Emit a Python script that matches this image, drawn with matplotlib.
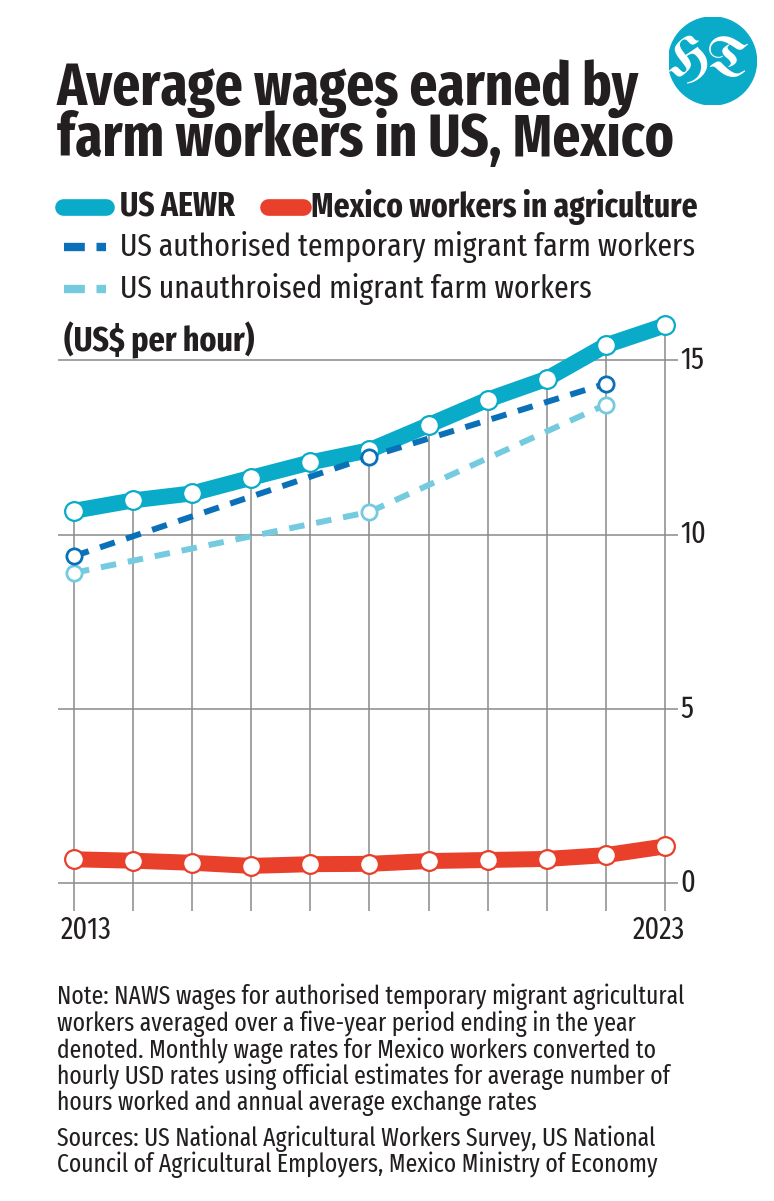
import matplotlib
matplotlib.use("Agg")
import matplotlib.pyplot as plt
from matplotlib.lines import Line2D
from matplotlib.patches import Circle

plt.rcParams['font.family'] = ['Fira Sans Extra Condensed', 'Fira Sans Condensed', 'DejaVu Sans']

# data (US$ per hour)
years = [2013, 2014, 2015, 2016, 2017, 2018, 2019, 2020, 2021, 2022, 2023]
us_aewr = [10.68, 10.98, 11.18, 11.63, 12.07, 12.42, 13.14, 13.87, 14.47, 15.43, 16.00]
mexico = [0.68, 0.64, 0.58, 0.49, 0.54, 0.55, 0.63, 0.66, 0.69, 0.80, 1.05]
auth_years = [2013, 2018, 2022]
us_auth = [9.38, 12.23, 14.33]
unauth_years = [2013, 2018, 2022]
us_unauth = [8.90, 10.65, 13.73]
yticks = [0, 5, 10, 15]

CYAN = '#0aabc9'
RED = '#e9402b'
DARK = '#0a70b8'
LIGHT = '#74cbdf'
GRID = '#8a8a8a'
INK = '#231f20'

W, H = 774, 1201
fig = plt.figure(figsize=(W / 100, H / 100), dpi=100)

def fx(px):
    return px / W

def fy(py):
    return 1 - py / H

# axes placed in pixel terms: x 40..700, y 300..940
ax = fig.add_axes([fx(40), fy(940), fx(700) - fx(40), fy(300) - fy(940)])
ax.set_xlim(2012.425, 2023.592)
ax.set_ylim(-1.636, 16.73)
ax.axis('off')

# gridlines
ax.hlines(yticks, 2012.73, 2023.22, color=GRID, lw=1.1, zorder=1)
ax.vlines(years, -0.8, us_aewr, color=GRID, lw=1.1, zorder=1)

ax.plot(years, us_aewr, color=CYAN, lw=11.5, solid_capstyle='round', zorder=2)
ax.plot(years, us_aewr, 'o', ms=13.5, mfc='white', mec=CYAN, mew=1.6, zorder=2.5)

ax.plot(unauth_years, us_unauth, color=LIGHT, lw=4.3, dashes=(2.6, 2.0), zorder=3)
ax.plot(unauth_years, us_unauth, 'o', ms=11, mfc='white', mec=LIGHT, mew=2.0, zorder=3.5)

ax.plot(auth_years, us_auth, color=DARK, lw=4.3, dashes=(2.6, 2.0), zorder=4)
ax.plot(auth_years, us_auth, 'o', ms=11, mfc='white', mec=DARK, mew=2.0, zorder=4.5)

ax.plot(years, mexico, color=RED, lw=11.5, solid_capstyle='round', zorder=5)
ax.plot(years, mexico, 'o', ms=13.5, mfc='white', mec=RED, mew=1.6, zorder=5.5)

for v in yticks:
    ax.text(2023.26, v, str(v), ha='left', va='center', fontsize=22, color=INK)
ax.text(2013.2, -1.35, '2013', ha='center', va='center', fontsize=22, color=INK)
ax.text(2022.9, -1.35, '2023', ha='center', va='center', fontsize=22, color=INK)

# title
fig.text(fx(57), fy(105), 'Average wages earned by', fontsize=43, fontweight='bold', color=INK)
fig.text(fx(57), fy(156), 'farm workers in US, Mexico', fontsize=43, fontweight='bold', color=INK)

# logo
lax = fig.add_axes([fx(668.5), fy(105), 88 / W, 88 / H])
lax.set_xlim(-1, 1)
lax.set_ylim(-1, 1)
lax.axis('off')
lax.add_patch(Circle((0, 0), 1, color=CYAN))
lax.text(-0.08, -0.02, 'HT', ha='center', va='center', fontsize=40, family='UnifrakturMaguntia',
         color='white')

# legend
def legend_line(x0, x1, y, color, lw, dashed=False):
    ln = Line2D([fx(x0), fx(x1)], [fy(y), fy(y)], transform=fig.transFigure, color=color, lw=lw,
                solid_capstyle='round')
    if dashed:
        ln.set_dashes((2.5, 1.4))
        ln.set_dash_capstyle('butt')
    fig.lines.append(ln)

legend_line(63, 106, 207, CYAN, 12)
fig.text(fx(120), fy(207), 'US AEWR', va='center', fontsize=24.5, fontweight='bold', color=INK)
legend_line(268, 303, 207, RED, 12)
fig.text(fx(311), fy(207), 'Mexico workers in agriculture', va='center', fontsize=24.5,
         fontweight='bold', color=INK)
legend_line(64, 106, 247, DARK, 6, dashed=True)
fig.text(fx(120), fy(247), 'US authorised temporary migrant farm workers', va='center',
         fontsize=23.2, color=INK)
legend_line(64, 106, 289, LIGHT, 6, dashed=True)
fig.text(fx(120), fy(289), 'US unauthroised migrant farm workers', va='center',
         fontsize=23.2, color=INK)

fig.text(fx(64), fy(340), '(US$ per hour)', va='center', fontsize=25, fontweight='bold', color=INK)

note = ('Note: NAWS wages for authorised temporary migrant agricultural\n'
        'workers averaged over a five-year period ending in the year\n'
        'denoted. Monthly wage rates for Mexico workers converted to\n'
        'hourly USD rates using official estimates for average number of\n'
        'hours worked and annual average exchange rates')
fig.text(fx(57), fy(984), note, va='top', fontsize=18.5, color=INK, linespacing=1.0)
sources = ('Sources: US National Agricultural Workers Survey, US National\n'
           'Council of Agricultural Employers, Mexico Ministry of Economy')
fig.text(fx(57), fy(1125), sources, va='top', fontsize=18.5, color=INK, linespacing=1.0)

fig.savefig('out.png', dpi=100, facecolor='white')
